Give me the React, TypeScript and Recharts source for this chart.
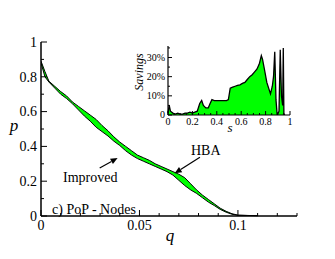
import React from "react";
import {
  ComposedChart,
  Area,
  Line,
  XAxis,
  YAxis,
  ReferenceLine,
} from "recharts";

// main plot: p vs q for the two algorithms
const qValues = [
  0, 0.002, 0.004, 0.007, 0.01, 0.013, 0.016, 0.019, 0.022, 0.025, 0.028,
  0.031, 0.034, 0.037, 0.04, 0.043, 0.046, 0.049, 0.052, 0.055, 0.058, 0.061,
  0.064, 0.067, 0.07, 0.073, 0.076, 0.079, 0.082, 0.085, 0.088, 0.091, 0.094,
  0.097, 0.1, 0.105, 0.11,
];
const hbaP = [
  0.89, 0.83, 0.775, 0.745, 0.715, 0.69, 0.655, 0.63, 0.605, 0.58, 0.555,
  0.52, 0.49, 0.455, 0.425, 0.4, 0.375, 0.35, 0.335, 0.32, 0.3, 0.285, 0.27,
  0.255, 0.24, 0.22, 0.185, 0.15, 0.12, 0.095, 0.07, 0.045, 0.027, 0.013,
  0.005, 0.003, 0.002,
];
const improvedP = [
  0.88, 0.8, 0.77, 0.735, 0.7, 0.675, 0.645, 0.61, 0.575, 0.545, 0.51, 0.485,
  0.46, 0.43, 0.405, 0.375, 0.35, 0.33, 0.315, 0.3, 0.285, 0.27, 0.255, 0.235,
  0.205, 0.175, 0.15, 0.13, 0.105, 0.08, 0.06, 0.038, 0.022, 0.01, 0.004,
  0.003, 0.002,
];

const qMajor = [0, 0.05, 0.1];
const qTicks = [
  0, 0.01, 0.02, 0.03, 0.04, 0.05, 0.06, 0.07, 0.08, 0.09, 0.1, 0.11, 0.12,
  0.13,
];
const pMajor = [0, 0.2, 0.4, 0.6, 0.8, 1];
const pTicks = [0, 0.1, 0.2, 0.3, 0.4, 0.5, 0.6, 0.7, 0.8, 0.9, 1];

// inset: savings vs s
const sValues = [
  0, 0.01, 0.02, 0.04, 0.06, 0.08, 0.1, 0.12, 0.14, 0.16, 0.18, 0.2, 0.22,
  0.24, 0.26, 0.276, 0.29, 0.31, 0.33, 0.345, 0.36, 0.38, 0.4, 0.42, 0.44,
  0.46, 0.48, 0.495, 0.51, 0.53, 0.55, 0.57, 0.59, 0.61, 0.63, 0.65, 0.67,
  0.69, 0.71, 0.73, 0.75, 0.765, 0.775, 0.79, 0.81, 0.825, 0.84, 0.855, 0.865,
  0.875, 0.885, 0.895, 0.91, 0.92, 0.93, 0.94, 0.945, 0.95, 0.96,
];
const savings = [
  0.01, 0.05, 0.02, 0.01, 0.005, 0.01, 0.005, 0.005, 0.01, 0.01, 0.015, 0.01,
  0.015, 0.02, 0.06, 0.076, 0.05, 0.037, 0.037, 0.06, 0.08, 0.075, 0.075,
  0.075, 0.075, 0.075, 0.075, 0.08, 0.14, 0.145, 0.15, 0.155, 0.157, 0.165,
  0.17, 0.185, 0.2, 0.21, 0.225, 0.24, 0.27, 0.31, 0.29, 0.24, 0.17, 0.14,
  0.11, 0.15, 0.2, 0.33, 0.08, 0, 0.02, 0.34, 0.1, 0.05, 0.35, 0, 0,
];

const sMajor = [0, 0.2, 0.4, 0.6, 0.8, 1];
const sTicks = [
  0, 0.05, 0.1, 0.15, 0.2, 0.25, 0.3, 0.35, 0.4, 0.45, 0.5, 0.55, 0.6, 0.65,
  0.7, 0.75, 0.8, 0.85, 0.9, 0.95, 1,
];
const savMajor = [0, 0.1, 0.2, 0.3];
const savTicks = [0, 0.05, 0.1, 0.15, 0.2, 0.25, 0.3, 0.35];

const serif = "'Times New Roman', 'Liberation Serif', 'DejaVu Serif', serif";
const green = "#00ff00";

const mainData = qValues.map((q, i) => ({
  q,
  hba: hbaP[i],
  improved: improvedP[i],
  band: [improvedP[i], hbaP[i]],
}));

const insetData = sValues.map((s, i) => ({ s, savings: savings[i] }));

function AxisTick(props: any) {
  const { x, y, payload, side, majors, fmt, gap, fontSize, long, short } =
    props;
  const v = payload.value;
  const major = majors.some((m: number) => Math.abs(m - v) < 1e-9);
  const len = major ? long : short;
  const label = major && fmt ? fmt(v) : null;
  if (side === "bottom") {
    const ay = y - gap;
    return (
      <g>
        <line x1={x} y1={ay} x2={x} y2={ay - len} stroke="#000" />
        {label !== null && (
          <text
            x={x}
            y={ay + gap + fontSize * 0.72}
            textAnchor="middle"
            style={{ fontFamily: serif, fontSize }}
            fill="#000"
          >
            {label}
          </text>
        )}
      </g>
    );
  }
  if (side === "top") {
    const ay = y + gap;
    return <line x1={x} y1={ay} x2={x} y2={ay + len} stroke="#000" />;
  }
  if (side === "left") {
    const ax = x + gap;
    return (
      <g>
        <line x1={ax} y1={y} x2={ax + len} y2={y} stroke="#000" />
        {label !== null && (
          <text
            x={x}
            y={y + fontSize * 0.34}
            textAnchor="end"
            style={{ fontFamily: serif, fontSize }}
            fill="#000"
          >
            {label}
          </text>
        )}
      </g>
    );
  }
  const ax = x - gap;
  return <line x1={ax} y1={y} x2={ax - len} y2={y} stroke="#000" />;
}

function Arrow(props: any) {
  const { x1, y1, x2, y2 } = props;
  const ang = Math.atan2(y2 - y1, x2 - x1);
  const h = 7;
  const w = 3;
  const bx = x2 - h * Math.cos(ang);
  const by = y2 - h * Math.sin(ang);
  const px = -Math.sin(ang) * w;
  const py = Math.cos(ang) * w;
  return (
    <g>
      <line x1={x1} y1={y1} x2={bx} y2={by} stroke="#000" strokeWidth={1.2} />
      <polygon
        points={`${x2},${y2} ${bx + px},${by + py} ${bx - px},${by - py}`}
        fill="#000"
      />
    </g>
  );
}

const fmtMain = (v: number) => String(v);
const fmtPct = (v: number) => (v === 0 ? "0" : `${Math.round(v * 100)}%`);

export default function App() {
  return (
    <div
      style={{
        position: "fixed",
        left: 0,
        top: 0,
        width: 335,
        height: 259,
        background: "#fff",
        fontFamily: serif,
      }}
    >
      <ComposedChart
        width={335}
        height={259}
        data={mainData}
        margin={{ top: 42, right: 38, bottom: 13, left: 11 }}
      >
        <XAxis
          xAxisId="b"
          type="number"
          dataKey="q"
          domain={[0, 0.13]}
          ticks={qTicks}
          allowDataOverflow
          height={30}
          tickSize={0}
          tickMargin={4}
          tickLine={false}
          axisLine={{ stroke: "#000", strokeWidth: 1.5 }}
          interval={0}
          tick={(p: any) => (
            <AxisTick
              {...p}
              side="bottom"
              majors={qMajor}
              fmt={fmtMain}
              gap={4}
              fontSize={14}
              long={6}
              short={3}
            />
          )}
        />
        <XAxis
          xAxisId="t"
          orientation="top"
          type="number"
          dataKey="q"
          domain={[0, 0.13]}
          ticks={qTicks}
          allowDataOverflow
          height={0}
          tickSize={0}
          tickMargin={4}
          tickLine={false}
          axisLine={{ stroke: "#000", strokeWidth: 1.5 }}
          interval={0}
          tick={(p: any) => (
            <AxisTick
              {...p}
              side="top"
              majors={qMajor}
              gap={4}
              long={6}
              short={3}
            />
          )}
        />
        <YAxis
          yAxisId="l"
          type="number"
          domain={[0, 1]}
          ticks={pTicks}
          width={30}
          tickSize={0}
          tickMargin={4}
          tickLine={false}
          axisLine={{ stroke: "#000", strokeWidth: 1.5 }}
          interval={0}
          tick={(p: any) => (
            <AxisTick
              {...p}
              side="left"
              majors={pMajor}
              fmt={fmtMain}
              gap={4}
              fontSize={14}
              long={6}
              short={3}
            />
          )}
        />
        <YAxis
          yAxisId="r"
          orientation="right"
          type="number"
          domain={[0, 1]}
          ticks={pTicks}
          width={0}
          tickSize={0}
          tickMargin={4}
          tickLine={false}
          axisLine={{ stroke: "#000", strokeWidth: 1.5 }}
          interval={0}
          tick={(p: any) => (
            <AxisTick
              {...p}
              side="right"
              majors={pMajor}
              gap={4}
              long={6}
              short={3}
            />
          )}
        />
        <Area
          xAxisId="b"
          yAxisId="l"
          type="linear"
          dataKey="band"
          fill={green}
          fillOpacity={1}
          stroke="none"
          isAnimationActive={false}
        />
        <Line
          xAxisId="b"
          yAxisId="l"
          type="linear"
          dataKey="hba"
          stroke="#000"
          strokeWidth={1}
          dot={false}
          isAnimationActive={false}
        />
        <Line
          xAxisId="b"
          yAxisId="l"
          type="linear"
          dataKey="improved"
          stroke="#000"
          strokeWidth={1}
          dot={false}
          isAnimationActive={false}
        />
        <ReferenceLine
          xAxisId="b"
          yAxisId="l"
          segment={[
            { x: 0.0298, y: 0.276 },
            { x: 0.0389, y: 0.333 },
          ]}
          shape={(p: any) => <Arrow {...p} />}
        />
        <ReferenceLine
          xAxisId="b"
          yAxisId="l"
          segment={[
            { x: 0.0807, y: 0.337 },
            { x: 0.0679, y: 0.245 },
          ]}
          shape={(p: any) => <Arrow {...p} />}
        />
      </ComposedChart>

      <div style={{ position: "absolute", left: 140, top: 38 }}>
        <ComposedChart
          width={160}
          height={97}
          data={insetData}
          margin={{ top: 8, right: 10, bottom: 0, left: 0 }}
        >
          <XAxis
            xAxisId="b"
            type="number"
            dataKey="s"
            domain={[0, 1]}
            ticks={sTicks}
            height={20}
            tickSize={0}
            tickMargin={3}
            tickLine={false}
            axisLine={{ stroke: "#000", strokeWidth: 1.2 }}
            interval={0}
            tick={(p: any) => (
              <AxisTick
                {...p}
                side="bottom"
                majors={sMajor}
                fmt={fmtMain}
                gap={3}
                fontSize={10}
                long={4}
                short={2}
              />
            )}
          />
          <XAxis
            xAxisId="t"
            orientation="top"
            type="number"
            dataKey="s"
            domain={[0, 1]}
            ticks={sTicks}
            height={0}
            tickSize={0}
            tickMargin={3}
            tickLine={false}
            axisLine={{ stroke: "#000", strokeWidth: 1.2 }}
            interval={0}
            tick={(p: any) => (
              <AxisTick
                {...p}
                side="top"
                majors={sMajor}
                gap={3}
                long={4}
                short={2}
              />
            )}
          />
          <YAxis
            yAxisId="l"
            type="number"
            domain={[0, 0.36]}
            ticks={savTicks}
            allowDataOverflow
            width={28}
            tickSize={0}
            tickMargin={3}
            tickLine={false}
            axisLine={{ stroke: "#000", strokeWidth: 1.2 }}
            interval={0}
            tick={(p: any) => (
              <AxisTick
                {...p}
                side="left"
                majors={savMajor}
                fmt={fmtPct}
                gap={3}
                fontSize={10}
                long={4}
                short={2}
              />
            )}
          />
          <YAxis
            yAxisId="r"
            orientation="right"
            type="number"
            domain={[0, 0.36]}
            ticks={savTicks}
            allowDataOverflow
            width={0}
            tickSize={0}
            tickMargin={3}
            tickLine={false}
            axisLine={{ stroke: "#000", strokeWidth: 1.2 }}
            interval={0}
            tick={(p: any) => (
              <AxisTick
                {...p}
                side="right"
                majors={savMajor}
                gap={3}
                long={4}
                short={2}
              />
            )}
          />
          <Area
            xAxisId="b"
            yAxisId="l"
            type="linear"
            dataKey="savings"
            fill={green}
            fillOpacity={1}
            stroke="#000"
            strokeWidth={1.3}
            isAnimationActive={false}
          />
        </ComposedChart>
      </div>

      {/* axis titles and annotations */}
      <svg
        width={335}
        height={259}
        style={{ position: "absolute", left: 0, top: 0, pointerEvents: "none" }}
        fontFamily={serif}
        fill="#000"
      >
        <text x={14} y={131} fontSize={17} fontStyle="italic" textAnchor="middle">
          p
        </text>
        <text x={170} y={241} fontSize={17} fontStyle="italic" textAnchor="middle">
          q
        </text>
        <text x={52} y={214} fontSize={14}>
          c) PoP - Nodes
        </text>
        <text x={63} y={182} fontSize={14}>
          Improved
        </text>
        <text x={191} y={155} fontSize={14}>
          HBA
        </text>
        <text
          x={143}
          y={72}
          fontSize={12}
          fontStyle="italic"
          textAnchor="middle"
          transform="rotate(-90 143 72)"
        >
          Savings
        </text>
        <text x={230} y={132} fontSize={13} fontStyle="italic" textAnchor="middle">
          s
        </text>
      </svg>
    </div>
  );
}
